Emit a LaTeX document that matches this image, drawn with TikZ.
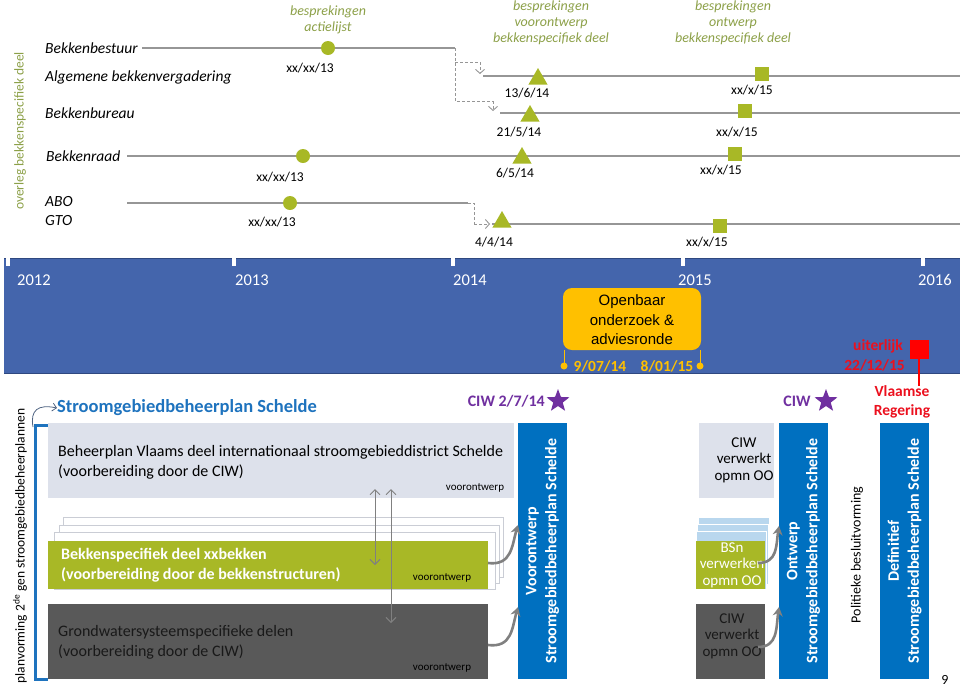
\documentclass[tikz,border=0pt]{standalone}
\usepackage{fontspec}
\setmainfont{Carlito}
\newfontfamily\arialf{Liberation Sans}
\usetikzlibrary{arrows.meta,shapes.geometric,calc}
\definecolor{bandblue}{RGB}{68,101,172}
\definecolor{bandedge}{RGB}{47,72,128}
\definecolor{mgreen}{RGB}{168,184,38}
\definecolor{hgreen}{RGB}{140,160,72}
\definecolor{lgrey}{RGB}{221,225,235}
\definecolor{dgrey}{RGB}{89,89,89}
\definecolor{pblue}{RGB}{0,112,192}
\definecolor{tblue}{RGB}{30,115,190}
\definecolor{purp}{RGB}{112,48,160}
\definecolor{orng}{RGB}{255,192,0}
\definecolor{rred}{RGB}{235,16,30}
\definecolor{lgline}{RGB}{150,150,150}
\definecolor{lblue}{RGB}{185,215,238}
\definecolor{slate}{RGB}{80,100,130}
\newcommand\fsz[2]{\fontsize{#1}{#2}\selectfont}
\begin{document}
\begin{tikzpicture}[x=1pt,y=-1pt,
  tline/.style={draw=lgline,line width=1.1pt},
  dline/.style={draw=lgline,line width=0.9pt,dashed,dash pattern=on 3pt off 2pt},
  vtip/.style={-{Straight Barb[length=4pt,width=9pt]}},
  rowlab/.style={anchor=west,inner sep=0,font=\fsz{15.5}{18}\itshape},
  hdr/.style={align=center,inner sep=0,text=hgreen,font=\fsz{14}{16}\itshape},
  dlab/.style={inner sep=0,font=\fsz{13.5}{15}},
  tri/.style={regular polygon,regular polygon sides=3,fill=mgreen,minimum size=22pt,inner sep=0},
  sq/.style={rectangle,fill=mgreen,minimum size=14pt,inner sep=0},
  dot/.style={circle,fill=mgreen,minimum size=14pt,inner sep=0},
  yr/.style={anchor=west,inner sep=0,text=white,font=\fsz{16.5}{18}},
  box/.style={anchor=north west,inner sep=0,outer sep=0},
  btxt/.style={anchor=west,inner sep=0,align=left,font=\fsz{16}{20}},
  small/.style={inner sep=0,font=\fsz{11}{12}},
  vbox/.style={box,fill=pblue,minimum width=49pt,minimum height=256pt},
  vtxt/.style={rotate=90,align=center,text=white,inner sep=0,font=\fsz{16}{20}\bfseries},
  garrow/.style={draw=gray,line width=2.6pt,-{Stealth[length=9pt,width=10pt]}},
  darrow/.style={draw=gray,line width=0.9pt,{Straight Barb[length=5pt,width=10pt]}-{Straight Barb[length=5pt,width=10pt]}},
  pstar/.style={star,star points=5,star point ratio=2.4,fill=purp,minimum size=24pt,inner sep=0},
  ciw/.style={inner sep=0,text=purp,font=\fsz{16}{18}\bfseries}
]
\useasboundingbox (0,0) rectangle (960,689);

% ---------- top: overleg bekkenspecifiek deel ----------
\node[rotate=90,inner sep=0,text=hgreen,font=\fsz{13.5}{16}] (ovl) at (20,131) {overleg bekkenspecifiek deel};

\node[rowlab] (bb) at (45,48) {Bekkenbestuur};
\node[rowlab] (abv) at (45,77) {Algemene bekkenvergadering};
\node[rowlab] (bbu) at (45,113) {Bekkenbureau};
\node[rowlab] (br) at (46,156) {Bekkenraad};
\node[rowlab] (abo) at (45,202) {ABO};
\node[rowlab] (gto) at (45,221) {GTO};

\node[hdr] (h1) at (328,20) {besprekingen\\actielijst};
\node[hdr] (h2) at (551,23) {besprekingen\\voorontwerp\\bekkenspecifiek deel};
\node[hdr] (h3) at (733,23) {besprekingen\\ontwerp\\bekkenspecifiek deel};

% coordinates of lines
\coordinate (l1s) at (142,48);  \coordinate (l1e) at (455,48);
\coordinate (l2s) at (483,76);  \coordinate (l2e) at (960,76);
\coordinate (l3s) at (500,113); \coordinate (l3e) at (960,113);
\coordinate (l4s) at (127,156); \coordinate (l4e) at (960,156);
\coordinate (l5s) at (127,203); \coordinate (l5e) at (468,203);
\coordinate (l6s) at (492,224); \coordinate (l6e) at (960,224);

\draw[tline] (l1s) -- (l1e);
\draw[tline] (l2s) -- (l2e);
\draw[tline] (l3s) -- (l3e);
\draw[tline] (l4s) -- (l4e);
\draw[tline] (l5s) -- (l5e);
\draw[tline] (l6s) -- (l6e);

% dashed connectors
\coordinate (a1) at (480,74);
\coordinate (a2) at (493,111);
\coordinate (a3) at (490,224);
\draw[dline] (l1e) -- (455,101) -- (493,101);
\draw[dline,vtip] (493,101) -- (a2);
\draw[dline] (455,62) -- (480,62);
\draw[dline,vtip] (480,62) -- (a1);
\draw[dline] (l5e) -- (474,203) -- (474,224);
\draw[dline,vtip] (474,224) -- (a3);

% markers
\node[dot] (c1) at (328,48) {};
\node[dot] (c2) at (303,156) {};
\node[dot] (c3) at (290,203) {};
\node[dlab] (dc1) at (310,68) {xx/xx/13};
\node[dlab] (dc2) at (280,177) {xx/xx/13};
\node[dlab] (dc3) at (272,222) {xx/xx/13};

\node[tri] (t1) at (538,79) {};
\node[tri] (t2) at (530,116) {};
\node[tri] (t3) at (522,158) {};
\node[tri] (t4) at (502,222) {};
\node[dlab] (dt1) at (527,93) {13/6/14};
\node[dlab] (dt2) at (519,132) {21/5/14};
\node[dlab] (dt3) at (515,173) {6/5/14};
\node[dlab] (dt4) at (494,242) {4/4/14};

\node[sq] (s1) at (762,74) {};
\node[sq] (s2) at (745,111) {};
\node[sq] (s3) at (735,154) {};
\node[sq] (s4) at (720,226) {};
\node[dlab] (ds1) at (752,90) {xx/x/15};
\node[dlab] (ds2) at (737,132) {xx/x/15};
\node[dlab] (ds3) at (721,170) {xx/x/15};
\node[dlab] (ds4) at (707,242) {xx/x/15};

% ---------- band ----------
\fill[bandblue] (4,258) rectangle (960,373);
\draw[bandedge,line width=0.8pt] (4,258) -- (960,258);
\draw[bandedge,line width=0.8pt] (4,373) -- (960,373);
\foreach \tx in {8,234,453,683,923} \fill[white] (\tx-2,258) rectangle (\tx+2,266);
\node[yr] (y12) at (17,280) {2012};
\node[yr] (y13) at (235,280) {2013};
\node[yr] (y14) at (453,280) {2014};
\node[yr] (y15) at (678,280) {2015};
\node[yr] (y16) at (918,280) {2016};

\node[box,fill=orng,rounded corners=9pt,minimum width=138pt,minimum height=62pt] (oo) at (563,288) {};
\node[align=center,inner sep=0,font=\arialf\fsz{15}{19.5}] (ootxt) at (632,320) {Openbaar\\onderzoek \&\\adviesronde};
\coordinate (od1) at (564,366);
\coordinate (od2) at (700,366);
\draw[orng,line width=1pt] (oo.south west -| od1) -- (od1);
\draw[orng,line width=1pt] (oo.south east -| od2) -- (od2);
\fill[orng] (od1) circle (3.5);
\fill[orng] (od2) circle (3.5);
\node[inner sep=0,text=orng,font=\fsz{15.5}{18}\bfseries] (d1) at (600,366) {9/07/14};
\node[inner sep=0,text=orng,font=\fsz{15.5}{18}\bfseries] (d2) at (667,366) {8/01/15};

\node[rectangle,fill=red,minimum size=19pt,inner sep=0] (rsq) at (919,349) {};
\coordinate (rend) at (919,386);
\draw[red,line width=2.2pt] (rsq.south) -- (rend);
\node[anchor=east,inner sep=0,text=rred,font=\fsz{15.5}{18}\bfseries] (uit) at (903,346) {uiterlijk};
\node[anchor=east,inner sep=0,text=rred,font=\fsz{15.5}{18}\bfseries] (udt) at (905,365) {22/12/15};
\node[align=center,inner sep=0,text=rred,font=\fsz{15.5}{19}\bfseries] (vr) at (902,402) {Vlaamse\\Regering};

% ---------- lower part ----------
\node[rotate=90,inner sep=0,font=\fsz{13.5}{16}] (plv) at (20,546) {planvorming 2\textsuperscript{de} gen stroomgebiedbeheerplannen};
\node[anchor=west,inner sep=0,text=tblue,font=\fsz{18.5}{22}\bfseries] (sgt) at (57,408) {Stroomgebiedbeheerplan Schelde};
\draw[tblue,line width=3pt] (48,425) -- (35,425) -- (35,679) -- (48,679);
\coordinate (cs) at (33,427);
\draw[slate,line width=0.8pt,-{Straight Barb[length=4pt,width=8pt]}] (cs) .. controls (30,410) and (38,404) .. (sgt.west);

% box 1
\node[box,fill=lgrey,minimum width=466pt,minimum height=75pt] (b1) at (48,423) {};
\node[btxt] (b1t) at (58,462) {Beheerplan Vlaams deel internationaal stroomgebieddistrict Schelde\\(voorbereiding door de CIW)};
\node[small] (b1v) at (475,488) {voorontwerp};

% stacked white
\node[box,fill=white,draw=lgrey!80!gray,line width=0.6pt,minimum width=440pt,minimum height=60pt] (w1) at (63,517) {};
\node[box,fill=white,draw=lgrey!80!gray,line width=0.6pt,minimum width=440pt,minimum height=58pt] (w2) at (59,525) {};
\node[box,fill=white,draw=lgrey!80!gray,line width=0.6pt,minimum width=441pt,minimum height=57pt] (w3) at (54,532) {};
\node[box,fill=mgreen,minimum width=440pt,minimum height=48pt] (b2) at (48,541) {};
\node[btxt,text=white,font=\fsz{16}{20}\bfseries] (b2t) at (61,565) {Bekkenspecifiek deel xxbekken\\(voorbereiding door de bekkenstructuren)};
\node[small] (b2v) at (442,578) {voorontwerp};

\node[box,fill=dgrey,minimum width=440pt,minimum height=75pt] (b3) at (48,604) {};
\node[btxt,text=black!90] (b3t) at (58,642) {Grondwatersysteemspecifieke delen\\(voorbereiding door de CIW)};
\node[small] (b3v) at (442,668) {voorontwerp};

\coordinate (da1) at (375,489);
\coordinate (da2) at (375,565);
\coordinate (db1) at (391,489);
\coordinate (db2) at (391,623);
\draw[darrow] (da1) -- (da2);
\draw[darrow] (db1) -- (db2);

% blue box 1
\node[vbox] (v1) at (518,423) {};
\node[vtxt] (v1t) at (v1.center) {Voorontwerp\\Stroomgebiedbeheerplan Schelde};
\node[ciw,anchor=east] (ciw1) at (545,401) {CIW 2/7/14};
\node[pstar] (st1) at (558,401) {};
\draw[garrow] (b2.east |- 0,563) .. controls (512,566) and (512,545) .. (v1.west |- 0,525);
\draw[garrow] (b3.east |- 0,645) .. controls (512,648) and (512,628) .. (v1.west |- 0,607);

% right part
\node[box,fill=lgrey,minimum width=75pt,minimum height=75pt] (r1) at (699,423) {};
\node[align=center,inner sep=0,font=\fsz{15}{16.5}] (r1t) at (744,460) {CIW\\verwerkt\\opmn OO};

\node[box,fill=lblue,draw=white,line width=0.6pt,minimum width=71pt,minimum height=60pt] (lb1) at (698,517) {};
\node[box,fill=lblue,draw=white,line width=0.6pt,minimum width=71pt,minimum height=60pt] (lb2) at (697,524) {};
\node[box,fill=lblue,draw=white,line width=0.6pt,minimum width=70pt,minimum height=58pt] (lb3) at (696,531) {};
\node[box,fill=mgreen,minimum width=69pt,minimum height=48pt] (r2) at (696,541) {};
\node[align=center,inner sep=0,text=white,font=\fsz{15}{16.5}] (r2t) at (732,565) {BSn\\verwerken\\opmn OO};

\node[box,fill=dgrey,minimum width=69pt,minimum height=75pt] (r3) at (696,604) {};
\node[align=center,inner sep=0,text=black!90,font=\fsz{15}{16.5}] (r3t) at (732,636) {CIW\\verwerkt\\opmn OO};

\node[vbox] (v2) at (779,423) {};
\node[vtxt] (v2t) at (v2.center) {Ontwerp\\Stroomgebiedbeheerplan Schelde};
\node[ciw] (ciw2) at (797,401) {CIW};
\node[pstar] (st2) at (826,401) {};
\coordinate (g1) at (758,563);
\coordinate (g2) at (758,647);
\draw[garrow] (g1) .. controls (778,563) and (776,545) .. (v2.west |- 0,526);
\draw[garrow] (g2) .. controls (778,647) and (776,628) .. (v2.west |- 0,607);

\node[rotate=90,inner sep=0,font=\fsz{14}{16}] (pol) at (857,555) {Politieke besluitvorming};

\node[vbox] (v3) at (880,423) {};
\node[vtxt] (v3t) at (v3.center) {Definitief\\Stroomgebiedbeheerplan Schelde};

\node[inner sep=0,font=\fsz{14}{16}] (pg) at (945,680) {9};
\end{tikzpicture}
\end{document}
